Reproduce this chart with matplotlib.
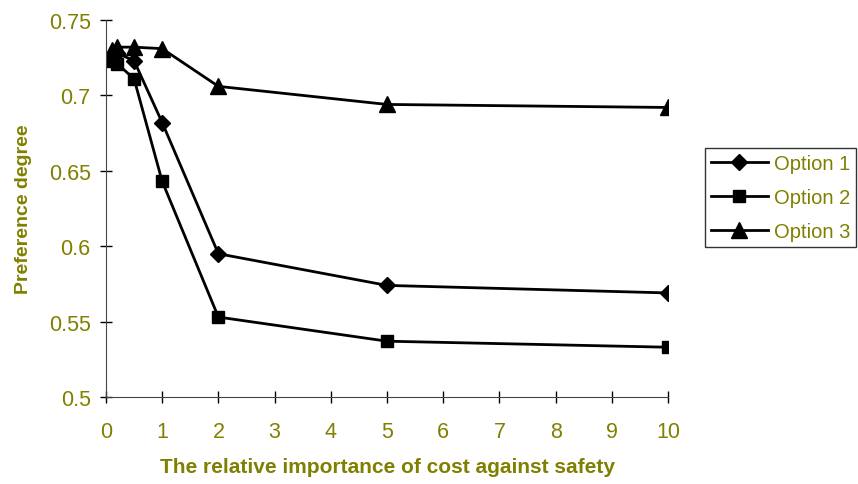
import matplotlib
matplotlib.use("Agg")
import matplotlib.pyplot as plt

# relative importance of cost against safety
x = [0.1, 0.2, 0.5, 1, 2, 5, 10]

option1 = [0.727, 0.728, 0.723, 0.682, 0.595, 0.574, 0.569]
option2 = [0.723, 0.721, 0.711, 0.643, 0.553, 0.537, 0.533]
option3 = [0.730, 0.732, 0.732, 0.731, 0.706, 0.694, 0.692]

xticks = list(range(0, 11))
yticks = [0.5, 0.55, 0.6, 0.65, 0.7, 0.75]
ytick_labels = ["0.5", "0.55", "0.6", "0.65", "0.7", "0.75"]

olive = "#808000"
plt.rcParams["font.family"] = ["Liberation Sans", "DejaVu Sans"]

fig = plt.figure(figsize=(8.58, 4.85), dpi=100)
ax = fig.add_axes([0.1235, 0.1794, 0.6551, 0.7773])

ax.plot(x, option1, color="black", lw=2, marker="D", ms=8, label="Option 1")
ax.plot(x, option2, color="black", lw=2, marker="s", ms=9, label="Option 2")
ax.plot(x, option3, color="black", lw=2, marker="^", ms=11, label="Option 3")

ax.set_xlim(0, 10)
ax.set_ylim(0.5, 0.75)
ax.set_xticks(xticks)
ax.set_yticks(yticks)
ax.set_yticklabels(ytick_labels)
ax.tick_params(direction="inout", length=8, width=1, labelsize=15.5,
               labelcolor=olive, color="black", pad=7)
ax.tick_params(axis="x", pad=13)
ax.spines["top"].set_visible(False)
ax.spines["right"].set_visible(False)
ax.spines["left"].set_color("#444444")
ax.spines["bottom"].set_color("#444444")

ax.set_xlabel("The relative importance of cost against safety", fontsize=15,
              fontweight="bold", color=olive, labelpad=11)
ax.set_ylabel("Preference degree", fontsize=14, fontweight="bold",
              color=olive, labelpad=12)

leg = ax.legend(loc="center left", bbox_to_anchor=(1.066, 0.53), fontsize=14.5,
                frameon=True, fancybox=False, edgecolor="black",
                handlelength=2.8, borderpad=0.3, labelspacing=0.75,
                handletextpad=0.3, borderaxespad=0)
leg.get_frame().set_linewidth(1)
for t in leg.get_texts():
    t.set_color(olive)

fig.savefig("out.png", dpi=100)
